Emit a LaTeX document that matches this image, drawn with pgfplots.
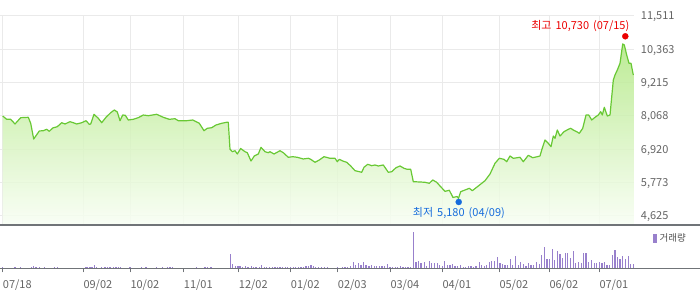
\documentclass[border=0pt]{standalone}
\usepackage{fontspec}
\setmainfont{Noto Sans CJK KR}
\usepackage{pgfplots}
\usepackage{pgfplotstable}
\pgfplotsset{compat=1.18}
\definecolor{linegreen}{RGB}{104,200,52}
\definecolor{filltop}{RGB}{178,232,132}
\definecolor{fillbot}{RGB}{248,254,244}
\definecolor{gridgray}{RGB}{234,234,234}
\definecolor{axisgray}{RGB}{112,116,120}
\definecolor{ticktext}{RGB}{100,100,100}
\definecolor{volc}{RGB}{152,128,204}
\definecolor{hired}{RGB}{235,0,0}
\definecolor{loblue}{RGB}{22,108,220}

\pgfplotstableread{
x v
2.7 8068
6.7 7954
10.7 7954
15 7793
20.7 8010
28.3 8023
30.7 7817
33.7 7276
39.3 7552
43.3 7562
46.7 7610
49.3 7541
52.7 7655
57.3 7700
61.7 7837
65 7793
70 7872
73.3 7837
76.7 7793
81.7 7837
86 7906
89.3 7782
90.7 7793
94 8126
98.3 7989
101.7 7837
106 8023
110.7 8182
114.3 8275
117.3 8206
120 7906
122.7 8102
125.3 8092
128.3 7930
133.3 7954
138.3 8010
143.3 8102
148.3 8078
156.7 8126
163.3 8023
169.3 7954
175 7975
178.3 7906
186.7 7906
192.7 7930
199.3 7817
204 7562
207.3 7645
211.7 7665
216 7758
221.7 7817
226.7 7851
228.3 7851
230 6922
232.3 6839
235 6873
237.3 6760
240.7 6949
245 6839
247.3 6804
251 6519
254.3 6691
258.3 6760
261 6990
265 6839
268.3 6804
270 6839
274 6760
280 6873
283.3 6804
288.3 6646
292.7 6667
297.3 6646
303.3 6588
308.3 6612
310.7 6577
315 6474
319.3 6553
324 6667
330 6612
335 6612
337.3 6495
339.3 6577
342.7 6519
346.7 6474
350.7 6347
355 6185
359.3 6150
361.7 6130
364 6302
367.7 6405
371.7 6357
375 6381
378.3 6347
383.3 6381
388.3 6130
391.7 6150
396 6288
400 6347
404 6267
407.3 6233
410.7 6233
413.3 5806
420 5796
425 5785
429.3 5751
432.7 5865
436.7 5785
440 5658
445 5475
449.3 5510
453 5262
457 5296
458.5 5234
460.7 5462
465 5520
469.3 5579
472.3 5496
478.3 5658
485 5840
490 6071
495 6440
499.3 6612
504 6577
506.7 6495
510 6691
513.3 6612
517.3 6632
520 6646
523.3 6495
528.3 6715
532.7 6632
537.3 6667
540 6691
541.7 6897
545 7242
548.3 7128
551 7011
553.3 7379
555 7300
557.3 7586
560 7379
564 7527
568.3 7610
570.7 7645
573.3 7586
576.7 7527
579.3 7472
582.7 7645
586 8102
588.7 8102
591.7 7930
595 8023
598.3 8102
600.7 8216
602.3 8102
604.3 8368
607.3 8068
610 8102
613.3 9307
615 9480
617.3 9652
620 9882
622.7 10547
624.3 10513
626.7 10168
629 9882
631 9882
633.3 9480
}\pricedata

\pgfplotstableread{
x h
2.7 1.3
15 1
20.7 1
31.7 1.3
33.3 2.3
36 1.3
39.3 1.3
44.3 1
54.3 1
57.3 1
86 1.3
87.7 1.3
90 1.3
92 1.3
94.3 3
96.7 1.3
101.7 1.3
105 1.3
107.7 1.3
110 1.3
113.3 1.3
116 1.3
118.3 1.3
120.7 1.3
130 1
141.7 1
146 1
156.7 1
162.7 1
167.7 1
170 1
172.3 1
196.7 1
205 1
207.3 1
211 1
230.3 14.3
232.3 4.3
235.3 2
238 2
240 2
242.7 1.3
245.3 2
248 1.3
251.3 2
253.3 1.3
256 1.3
259.3 1.3
261.7 3
264.3 1.3
266.7 1.3
269.3 1.3
272.7 1.3
275 1.3
277.7 1.3
280 1.3
282.7 1.3
285.3 1.3
287.7 1.3
290.3 1.3
293.3 1.3
295.7 1.3
298.3 1.3
301 1.3
303.3 1.3
306 2
308.7 2
311 3.7
313.3 2
315.7 1.3
318.3 1.3
321.7 1.3
324.3 1.3
327.3 1.3
337.3 1
342.7 1.3
345 1.3
347.7 1.3
350.3 2
353.3 6.3
355.3 3
358.3 5
361 3
363.3 6
366 3.3
369 2
371.7 3
374.3 2
376.7 2
379.3 2
382 2
384.3 2
387.3 4
390 1.3
392.7 1.3
395.3 1.3
397.7 1.3
400.3 2
403 1.3
405.3 1.3
408 1.3
410.3 1.3
413.3 36.3
416 6.3
418.3 7.3
421 5.3
424.3 6.3
426.7 2.3
429.3 7
431.7 5.3
434.3 5.3
437.3 5.3
439.3 3.7
442.3 2.3
444.7 7
447.3 3.3
450 3.3
452.3 4.3
455 2
457.7 2
460.3 3.3
463.3 1.3
465.7 1.3
468.7 2.3
471 2.3
473.3 1.3
476 2.3
479.3 6.3
481.7 3.3
484.3 2.3
486.7 3.3
489.3 6.3
491.7 7.3
494.3 7.3
497.3 11.3
500 5.3
502.7 4
505 3.3
507.7 3.3
510.7 9.3
512.7 3.3
515.3 12.3
518.3 3.3
520.7 6
523.3 4.3
526 2.3
528.7 5.3
531 3.3
533.7 3.3
536.7 6.3
539.3 4.3
541.7 13.3
544.3 21.3
547 9.3
549.3 9
552.3 19.7
554.7 8.7
557.3 17.7
560 14.3
562.7 10.3
565.3 15.7
567.7 15.7
570.3 10.3
573.3 17.7
575.7 5.7
578.3 6.3
581.3 5.3
583.3 15.3
586 15.3
588.7 6.3
591.3 8.3
594.3 5.3
596.7 5.3
599.3 6.3
602 5
604.3 6.3
607 3.7
609.7 3.3
612.3 13
615 18.3
617.3 11.3
620 9.3
622.7 12.3
625.3 9.7
628.3 12.3
630.7 4.3
633.3 4.3
}\voldata

\begin{document}
\begin{tikzpicture}
\useasboundingbox (0pt,0pt) rectangle (700pt,289pt);

% ---------- price panel ----------
\begin{axis}[
  name=price,
  at={(0pt,64pt)}, anchor=south west,
  scale only axis, width=634pt, height=209pt,
  xmin=0, xmax=634, ymin=4315, ymax=11511,
  axis line style={draw=none},
  major tick length=0pt,
  scaled y ticks=false, scaled x ticks=false,
  xtick={2.7,83.3,130.3,183.7,238.7,290.7,337.7,390.3,442.3,499.3,549.3,599.3},
  xticklabels={},
  ytick={4625,5773,6920,8068,9215,10363,11511},
  yticklabels={{4,625},{5,773},{6,920},{8,068},{9,215},{10,363},{11,511}},
  yticklabel pos=right,
  yticklabel style={anchor=base west, inner sep=0pt, xshift=6.7pt, yshift=-4pt,
    font=\fontsize{11pt}{13pt}\selectfont, text=ticktext},
  grid=major,
  grid style={gridgray, line width=1pt},
  clip=false,
]
\addplot[top color=filltop, bottom color=fillbot, fill opacity=0.85, draw=none, forget plot]
  table[x=x, y=v] {\pricedata} -- (axis cs:633.3,4315) -- (axis cs:2.7,4315) -- cycle;
\addplot[linegreen, line width=1.2pt, line join=round] table[x=x, y=v] {\pricedata};
\addplot[only marks, mark=*, mark size=3pt, hired,
  every mark/.append style={yshift=2.4pt}] coordinates {(625.3,10730)};
\addplot[only marks, mark=*, mark size=3pt, loblue,
  every mark/.append style={yshift=-2.1pt}] coordinates {(458.7,5180)};
\node[anchor=east, inner sep=0pt, text=hired, font=\fontsize{11pt}{13pt}\selectfont]
  at (axis cs:629.5,11167) {최고\hspace{4pt}10,730\hspace{4pt}(07/15)};
\node[anchor=center, inner sep=0pt, text=loblue, font=\fontsize{11pt}{13pt}\selectfont]
  at (axis cs:458.9,4739) {최저\hspace{4pt}5,180\hspace{4pt}(04/09)};
\end{axis}

% ---------- volume panel ----------
\begin{axis}[
  name=vol,
  at={(0pt,20.7pt)}, anchor=south west,
  scale only axis, width=634pt, height=43.3pt,
  xmin=0, xmax=634, ymin=0, ymax=43.3,
  axis line style={draw=none},
  scaled y ticks=false, scaled x ticks=false,
  ytick=\empty,
  xtick={2.7,83.3,130.3,183.7,238.7,290.7,337.7,390.3,442.3,499.3,549.3,599.3},
  xticklabels={07/18,09/02,10/02,11/01,12/02,01/02,02/03,03/04,04/01,05/02,06/02,07/01},
  xtick pos=bottom,
  tick align=outside,
  major tick length=4pt,
  tick style={axisgray, line width=0.8pt},
  xticklabel style={anchor=base west, inner sep=0pt, yshift=-16pt,
    font=\fontsize{11pt}{13pt}\selectfont, text=ticktext},
  clip=false,
  legend style={draw=none, fill=none, inner sep=0pt, outer sep=0pt,
    at={(rel axis cs:1,1)}, anchor=north west, xshift=19.3pt, yshift=-8.5pt,
    font=\fontsize{9.5pt}{11pt}\selectfont, text=ticktext!80!black,
    nodes={inner sep=0pt}, column sep=2.5pt},
  legend image code/.code={\fill[volc] (0pt,-4pt) rectangle (2.7pt,4pt);},
]
\addplot[ycomb, volc, line width=1.1pt, mark=none] table[x=x, y=h] {\voldata};
\addlegendentry{거래량}
\end{axis}

\draw[axisgray, line width=1.2pt] (0pt,64pt) -- (700pt,64pt);
\draw[axisgray, line width=1pt] (0pt,20.7pt) -- (700pt,20.7pt);
\end{tikzpicture}
\end{document}
